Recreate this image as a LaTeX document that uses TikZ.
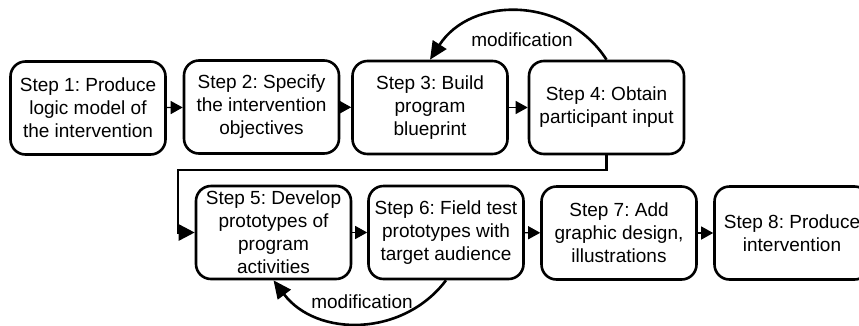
\documentclass[tikz,border=0pt]{standalone}
\usepackage{fontspec}
\setmainfont{Liberation Sans}
\usetikzlibrary{arrows.meta}
\frenchspacing
\begin{document}
\begin{tikzpicture}[x=1pt,y=-1pt,
  stepbox/.style={draw, line width=2.6pt, rounded corners=15pt, minimum width=155pt, minimum height=93pt, align=center, inner sep=1pt, font=\fontsize{19}{23}\selectfont},
  lbl/.style={inner sep=1pt, font=\fontsize{19}{23}\selectfont},
  link/.style={line width=1.2pt, -{Triangle[length=12pt,width=13pt]}},
  bigarrow/.style={line width=2.6pt, -{Triangle[length=16pt,width=16pt]}},
  loopback/.style={line width=2.6pt, -{Triangle[length=18pt,width=16pt]}}]
\useasboundingbox (0,0) rectangle (859,325);
\node[stepbox] (s1) at (88,108) {Step 1: Produce\\logic model of\\the intervention};
\node[stepbox] (s2) at (261.5,107) {Step 2: Specify\\the intervention\\objectives};
\node[stepbox] (s3) at (430,107.5) {Step 3: Build\\program\\blueprint};
\node[stepbox] (s4) at (606.5,107.5) {Step 4: Obtain\\participant input};
\node[stepbox] (s5) at (273.5,232.5) {Step 5: Develop\\prototypes of\\program\\activities};
\node[stepbox] (s6) at (446,232.5) {Step 6: Field test\\prototypes with\\target audience};
\node[stepbox] (s7) at (619,233) {Step 7: Add\\graphic design,\\illustrations};
\node[stepbox] (s8) at (792,233) {Step 8: Produce\\intervention};
\draw[link] (s1) -- (s2);
\draw[link] (s2) -- (s3);
\draw[link] (s3) -- (s4);
\draw[link] (s5) -- (s6);
\draw[link] (s6) -- (s7);
\draw[link] (s7) -- (s8);
\coordinate (k) at (178,170);
\draw[bigarrow] (s4.south) |- (k) |- (s5.west);
\draw[loopback] (s4.north) .. controls +(-41,-64) and +(41,-64) .. (s3.north);
\draw[loopback] (s6.south) .. controls +(-43,57) and +(43,57) .. (s5.south);
\node[lbl] (m1) at (522,40) {modification};
\node[lbl] (m2) at (362,302) {modification};
\end{tikzpicture}
\end{document}
